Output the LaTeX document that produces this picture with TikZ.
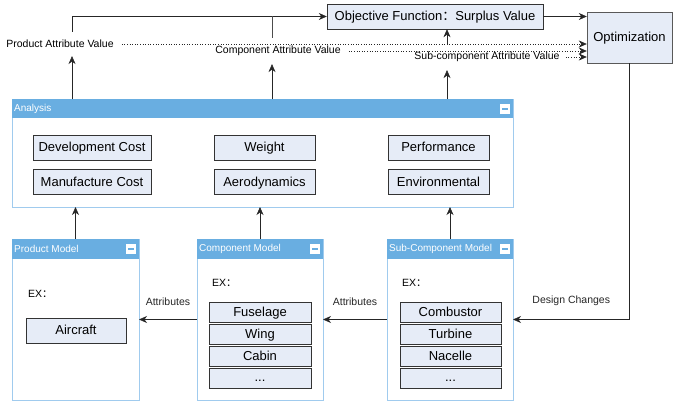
\documentclass[tikz,border=0pt]{standalone}
\usepackage{fontspec}
\setmainfont{Liberation Sans}
\newfontfamily\cjk{Noto Sans CJK SC}
\usetikzlibrary{arrows.meta,positioning,calc}
\definecolor{headblue}{RGB}{105,174,225}
\definecolor{edgeblue}{RGB}{160,203,238}
\definecolor{boxfill}{RGB}{230,236,247}
\newcommand{\fwcolon}{{\cjk ：}}
\tikzset{
  post/.style     = {-{Stealth[length=8pt,width=7pt,inset=2.5pt]}, semithick, black!85},
  link/.style     = {semithick, black!70},
  valueline/.style= {-{Stealth[length=8pt,width=7pt,inset=2.5pt]}, dotted, semithick, black!85},
  panel/.style    = {draw=edgeblue, line width=1pt, fill=white, anchor=north west, inner sep=0pt, outer sep=0pt},
  head/.style     = {fill=headblue, anchor=north west, inner sep=0pt, minimum height=19pt},
  headtext/.style = {text=white, font=\fontsize{10}{12}\selectfont, anchor=west, inner sep=2pt},
  minusbtn/.style = {fill=white, minimum size=10pt, inner sep=0pt,
    path picture={\fill[headblue] ([xshift=2pt,yshift=-1pt]path picture bounding box.west)
      rectangle ([xshift=-2pt,yshift=1pt]path picture bounding box.east);}},
  item/.style     = {draw=black!80, fill=boxfill, minimum height=25pt, inner sep=0pt,
                     text height=10pt, text depth=1.5pt, font=\fontsize{13}{15}\selectfont},
  part/.style     = {item, minimum height=20pt},
  small/.style    = {font=\fontsize{10.5}{12}\selectfont, inner sep=2pt}
}

\begin{document}
\begin{tikzpicture}[x=1pt,y=-1pt]
  \useasboundingbox (0,0) rectangle (677,404);
  % analysis
  \node[panel, minimum width=501pt, minimum height=108pt] (analysis) at (12,99) {};
  \node[head, minimum width=501pt] (analysis-h) at (analysis.north west) {};
  \node[headtext] at (analysis-h.west) {Analysis};
  \node[minusbtn] at ([xshift=-8pt]analysis-h.east) {};
  \node[item, minimum width=118pt] (devcost) at (92,147.5) {Development Cost};
  \node[item, minimum width=118pt] (mancost) at (92,182) {Manufacture Cost};
  \node[item, minimum width=101pt] (weight) at (264.5,147.5) {Weight};
  \node[item, minimum width=101pt] (aero) at (264.5,182) {Aerodynamics};
  \node[item, minimum width=101pt] (perf) at (438.5,147.5) {Performance};
  \node[item, minimum width=101pt] (env) at (438.5,182) {Environmental};

  % models
  \node[panel, minimum width=127pt, minimum height=161pt] (product) at (12,239) {};
  \node[head, minimum width=127pt, minimum height=20pt] (product-h) at (product.north west) {};
  \node[headtext] at (product-h.west) {Product Model};
  \node[minusbtn] at ([xshift=-8pt]product-h.east) {};
  \node[small, anchor=west] (product-ex) at (26,294) {EX\fwcolon};
  \node[item, minimum width=100pt] (aircraft) at (76,330.5) {Aircraft};

  \node[panel, minimum width=126pt, minimum height=161pt] (component) at (197,239) {};
  \node[head, minimum width=126pt, minimum height=20pt] (component-h) at (component.north west) {};
  \node[headtext] at (component-h.west) {Component Model};
  \node[minusbtn] at ([xshift=-8pt]component-h.east) {};
  \node[small, anchor=west] (component-ex) at (210,283) {EX\fwcolon};
  \node[part, minimum width=102pt] (fuselage) at (260,312) {Fuselage};
  \node[part, minimum width=102pt, below=1.5pt of fuselage] (wing) {Wing};
  \node[part, minimum width=102pt, below=1.5pt of wing] (cabin) {Cabin};
  \node[part, minimum width=102pt, below=1.5pt of cabin] (cmore) {...};

  \node[panel, minimum width=126pt, minimum height=161pt] (subcomp) at (387,239) {};
  \node[head, minimum width=126pt, minimum height=20pt] (subcomp-h) at (subcomp.north west) {};
  \node[headtext] at (subcomp-h.west) {Sub-Component Model};
  \node[minusbtn] at ([xshift=-8pt]subcomp-h.east) {};
  \node[small, anchor=west] (subcomp-ex) at (400,283) {EX\fwcolon};
  \node[part, minimum width=101pt] (combustor) at (450.5,312) {Combustor};
  \node[part, minimum width=101pt, below=1.5pt of combustor] (turbine) {Turbine};
  \node[part, minimum width=101pt, below=1.5pt of turbine] (nacelle) {Nacelle};
  \node[part, minimum width=101pt, below=1.5pt of nacelle] (smore) {...};

  % objective and optimization
  \node[item, minimum width=216pt] (objective) at (435,16.5) {Objective Function\fwcolon Surplus Value};
  \node[item, draw=black!65, minimum width=85pt, minimum height=51pt] (optim) at (629.5,37.5) {Optimization};
  \node[small] (prodval) at (60,44) {Product Attribute Value};
  \node[small] (compval) at (278,51) {Component Attribute Value};
  \node[small] (subval) at (487,57) {Sub-component Attribute Value};
  \coordinate (xp) at (72,0);
  \coordinate (xc) at (272,0);
  \coordinate (xs) at (447,0);

  % connectors
  \draw[post, shorten >=6pt] (analysis.north -| xp) -- (prodval.south -| xp);
  \draw[post, shorten >=6pt] (analysis.north -| xc) -- (compval.south -| xc);
  \draw[post, shorten >=6pt] (analysis.north -| xs) -- (subval.south -| xs);
  \draw[post, shorten <=6pt] (prodval.north -| xp) |- (objective.west);
  \draw[link, shorten <=6pt] (compval.north -| xc) -- (xc |- objective.west);
  \draw[post, shorten <=6pt] (subval.north -| xs) -- (objective.south -| xs);
  \draw[post] (objective.east) -- (objective.east -| optim.west);
  \draw[valueline, shorten <=6pt] (prodval.east) -- (prodval.east -| optim.west);
  \draw[valueline, shorten <=6pt] (compval.east) -- (compval.east -| optim.west);
  \draw[valueline, shorten <=4pt] (subval.east) -- (subval.east -| optim.west);
  \draw[post] (product.north) -- (product.north |- analysis.south);
  \draw[post] (component.north) -- (component.north |- analysis.south);
  \draw[post] (subcomp.north) -- (subcomp.north |- analysis.south);
  \draw[post] (component.west) -- node[small, above=12pt] {Attributes} (product.east);
  \draw[post] (subcomp.west) -- node[small, above=12pt] {Attributes} (component.east);
  \draw[post] (optim.south) |- node[small, pos=0.75, above=12pt] {Design Changes} (subcomp.east);
\end{tikzpicture}
\end{document}
